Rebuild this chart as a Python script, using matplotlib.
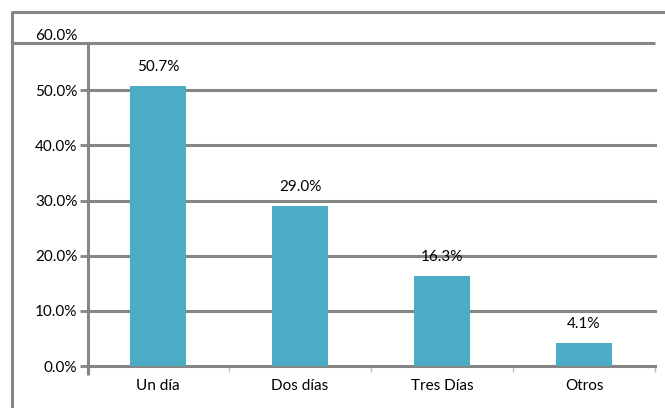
import matplotlib.pyplot as plt
from matplotlib.lines import Line2D

# data
categories = ["Un día", "Dos días", "Tres Días", "Otros"]
values = [50.7, 29.0, 16.3, 4.1]
ytick_vals = [0, 10, 20, 30, 40, 50, 60]

bar_color = "#4BACC6"
line_color = "#868686"

plt.rcParams['font.family'] = ['Lato', 'DejaVu Sans']

fig = plt.figure(figsize=(6.65, 4.08), dpi=100)
W, H = 665, 408
ax = fig.add_axes([87 / W, 42 / H, (655 - 87) / W, (366 - 35) / H])

x = range(len(categories))
ax.bar(x, values, width=0.4, color=bar_color, zorder=3)
for xi, v in zip(x, values):
    ax.annotate(f"{v:.1f}%", (xi, v), xytext=(0, 14), textcoords="offset points",
                ha="center", va="center", fontsize=11)

ax.set_xlim(-0.5, len(categories) - 0.5)
ax.set_ylim(0, 60)
ax.set_yticks(ytick_vals)
ax.set_yticklabels([f"{v:.1f}%" for v in ytick_vals], fontsize=11)
ax.set_xticks(list(x))
ax.set_xticklabels(categories, fontsize=11)
ax.set_xticks([i + 0.5 for i in x], minor=True)

# gridlines 0..50 (60 is the frame line)
for v in ytick_vals[:-1]:
    ax.axhline(v, color=line_color, lw=2.2, zorder=2, clip_on=False)

for s in ax.spines.values():
    s.set_visible(False)
ax.tick_params(axis="y", length=5, width=2, color=line_color, pad=2)
ax.tick_params(axis="x", which="major", length=0, pad=9)
ax.tick_params(axis="x", which="minor", length=4, width=1, color="#bbbbbb", direction="out")
ax.yaxis.get_major_ticks()[-1].tick1line.set_visible(False)

# frame lines
def fline(x0, y0, x1, y1):
    fig.add_artist(Line2D([x0 / W, x1 / W], [1 - y0 / H, 1 - y1 / H],
                          color=line_color, lw=2.2, solid_capstyle="butt"))

fline(12, 12, 665, 12)
fline(12, 11, 12, 408)
fline(12, 43, 655, 43)
fline(88, 43, 88, 375)

fig.savefig("out.png", dpi=100)
